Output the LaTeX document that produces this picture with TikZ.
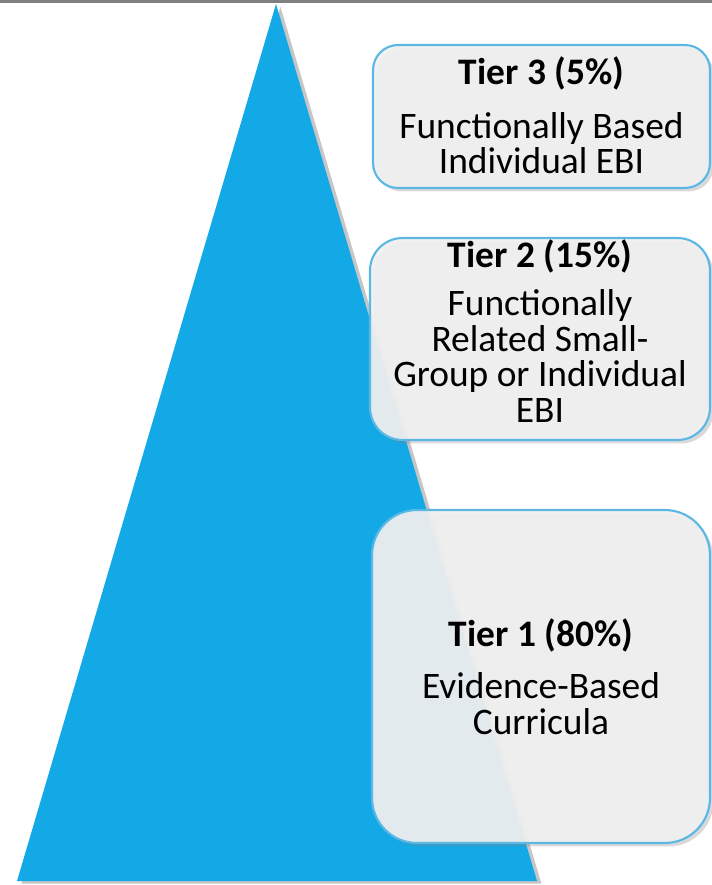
\documentclass[tikz,border=0pt]{standalone}
\usepackage{fontspec}
\setmainfont{Carlito}
\usepackage{tikz}
\usetikzlibrary{positioning,shadows}
\definecolor{pyramidblue}{HTML}{13A9E6}
\definecolor{tierline}{HTML}{5BB8E4}
\definecolor{tierfill}{HTML}{F0F0F0}
\tikzset{
    tier/.style={
        rectangle,
        draw=tierline, line width=1.2pt,
        fill=tierfill, fill opacity=0.93,
        inner sep=0pt,
        drop shadow={shadow xshift=2pt, shadow yshift=-2pt, opacity=0.3}
    },
    tiertext/.style={
        align=center,
        inner sep=0pt,
        font={\fontsize{21.3pt}{20.4pt}\selectfont}
    },
    pyramid/.style={
        fill=pyramidblue,
        drop shadow={shadow xshift=2.5pt, shadow yshift=-1.5pt, opacity=0.45}
    },
    topline/.style={draw=gray, line width=1.6pt},
}

\begin{document}
\begin{tikzpicture}[x=0.02cm, y=-0.02cm]

\useasboundingbox (0,0) rectangle (712,885);

\draw [topline] (0,1.5) -- (712,1.5);

% the pyramid
\coordinate (apex) at (276,4);
\coordinate (base-l) at (17,881);
\coordinate (base-r) at (537,881);
\fill [pyramid] (apex) -- (base-r) -- (base-l) -- cycle;

% the three tiers
\foreach \n/\cx/\cy/\w/\h/\r/\dy/\txt in {%
    3/541.5/116.5/6.74/2.86/0.5/-1/{\textbf{Tier 3 (5\%)}\\[10pt] Functionally Based\\ Individual EBI},
    2/540/339/6.80/4.04/0.65/-8/{\textbf{Tier 2 (15\%)}\\[7pt] Functionally\\ Related Small-\\ Group or Individual\\ EBI},
    1/541/676.5/6.76/6.66/0.9/0/{\textbf{Tier 1 (80\%)}\\[9pt] Evidence-Based\\ Curricula}}
{
  \node [tier, minimum width=\w cm, minimum height=\h cm, rounded corners=\r cm]
    (tier-\n) at (\cx,\cy) {};
  \node [tiertext] (tier-\n-text) at (\cx,\cy+\dy) {\txt};
}

\end{tikzpicture}
\end{document}
